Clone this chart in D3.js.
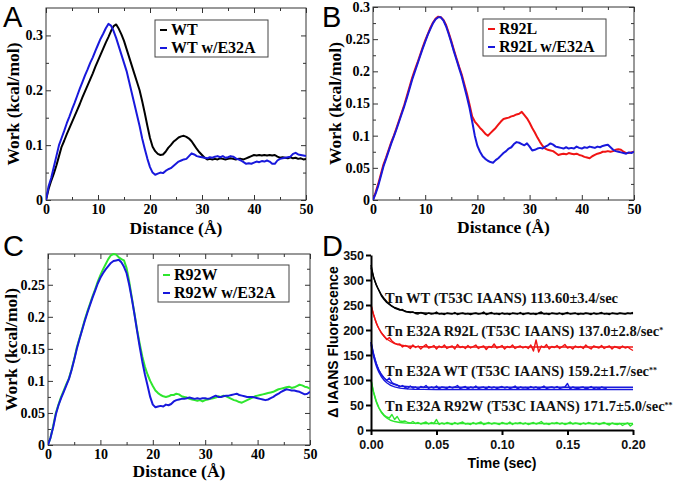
<!DOCTYPE html>
<html><head><meta charset="utf-8">
<script src="https://cdn.jsdelivr.net/npm/d3@7/dist/d3.min.js"></script>
<style>body{margin:0;background:#fff}svg{display:block}</style>
</head><body>
<svg id="c" width="677" height="484"></svg>
<script>
// ---------- DATA ----------
// Panels A-C: work (kcal/mol) sampled every 0.5 Å from 0 to 50 Å
const distanceStep = 0.5;
const distanceTicks = [0, 10, 20, 30, 40, 50];
const distanceTickLabels = ["0", "10", "20", "30", "40", "50"];
const distanceMinorTicks = [5, 15, 25, 35, 45];

const wtWork = [
0,0.02,0.035,0.048,0.063,0.08,0.097,0.108,0.12,0.131,
0.142,0.153,0.164,0.175,0.187,0.198,0.209,0.22,0.231,0.243,
0.254,0.265,0.276,0.287,0.297,0.308,0.317,0.32,0.312,0.302,
0.29,0.275,0.26,0.245,0.23,0.215,0.2,0.18,0.158,0.135,
0.113,0.097,0.089,0.084,0.082,0.083,0.088,0.095,0.1,0.106,
0.11,0.114,0.116,0.117,0.115,0.112,0.107,0.1,0.093,0.087,
0.082,0.077,0.074,0.075,0.074,0.075,0.074,0.076,0.075,0.074,
0.075,0.076,0.075,0.074,0.075,0.075,0.074,0.076,0.078,0.08,
0.082,0.081,0.082,0.081,0.082,0.081,0.082,0.081,0.082,0.079,
0.077,0.078,0.077,0.076,0.078,0.076,0.077,0.075,0.076,0.074,
0.075];
const wtE32AWork = [
0,0.025,0.04,0.06,0.08,0.1,0.113,0.126,0.14,0.152,
0.165,0.177,0.19,0.203,0.215,0.227,0.238,0.25,0.26,0.272,
0.283,0.294,0.303,0.313,0.321,0.318,0.308,0.295,0.28,0.265,
0.25,0.235,0.215,0.195,0.175,0.155,0.135,0.112,0.093,0.075,
0.06,0.05,0.046,0.048,0.05,0.049,0.053,0.056,0.058,0.062,
0.066,0.07,0.072,0.074,0.075,0.08,0.085,0.083,0.08,0.079,
0.078,0.077,0.076,0.078,0.077,0.079,0.08,0.078,0.08,0.077,
0.078,0.08,0.079,0.076,0.074,0.072,0.069,0.066,0.067,0.066,
0.068,0.07,0.069,0.071,0.07,0.072,0.07,0.066,0.066,0.072,
0.075,0.076,0.077,0.078,0.079,0.084,0.086,0.083,0.082,0.081,
0.08];
const r92lWork = [
0,0.012,0.025,0.04,0.055,0.066,0.078,0.09,0.1,0.112,
0.124,0.136,0.148,0.162,0.176,0.19,0.202,0.213,0.225,0.237,
0.248,0.258,0.268,0.276,0.282,0.285,0.284,0.28,0.272,0.26,
0.247,0.233,0.22,0.207,0.195,0.18,0.165,0.148,0.13,0.122,
0.117,0.112,0.108,0.103,0.1,0.104,0.108,0.112,0.117,0.122,
0.126,0.127,0.128,0.13,0.131,0.133,0.134,0.137,0.132,0.127,
0.12,0.112,0.105,0.097,0.09,0.084,0.08,0.078,0.077,0.076,
0.073,0.07,0.071,0.072,0.071,0.073,0.072,0.071,0.072,0.07,
0.069,0.067,0.066,0.065,0.068,0.07,0.072,0.073,0.075,0.075,
0.076,0.075,0.076,0.078,0.079,0.078,0.075,0.073,0.073,0.074,
0.075];
const r92lE32AWork = [
0,0.01,0.022,0.037,0.052,0.064,0.076,0.088,0.099,0.11,
0.122,0.134,0.146,0.159,0.173,0.187,0.199,0.211,0.223,0.235,
0.246,0.257,0.266,0.275,0.281,0.284,0.284,0.279,0.27,0.258,
0.245,0.231,0.218,0.205,0.192,0.176,0.16,0.143,0.122,0.1,
0.084,0.075,0.068,0.064,0.061,0.059,0.058,0.062,0.065,0.069,
0.073,0.076,0.08,0.082,0.087,0.09,0.089,0.087,0.085,0.088,
0.083,0.077,0.078,0.08,0.081,0.08,0.083,0.085,0.088,0.086,
0.083,0.082,0.081,0.08,0.082,0.08,0.081,0.08,0.083,0.081,
0.08,0.082,0.081,0.083,0.082,0.081,0.083,0.082,0.084,0.085,
0.086,0.082,0.078,0.076,0.075,0.074,0.073,0.072,0.074,0.073,
0.075];
const r92wWork = [
0,0.012,0.03,0.05,0.063,0.075,0.085,0.095,0.104,0.118,
0.134,0.152,0.166,0.18,0.195,0.208,0.22,0.232,0.243,0.255,
0.265,0.274,0.282,0.29,0.296,0.298,0.297,0.293,0.29,0.288,
0.276,0.255,0.23,0.205,0.18,0.158,0.138,0.122,0.11,0.1,
0.092,0.085,0.081,0.078,0.076,0.075,0.076,0.078,0.078,0.08,
0.079,0.076,0.075,0.074,0.072,0.071,0.07,0.069,0.07,0.068,
0.07,0.071,0.072,0.073,0.074,0.076,0.075,0.077,0.076,0.074,
0.072,0.07,0.069,0.067,0.066,0.068,0.07,0.072,0.074,0.076,
0.077,0.078,0.079,0.08,0.081,0.082,0.083,0.085,0.087,0.088,
0.089,0.09,0.091,0.089,0.09,0.092,0.094,0.093,0.091,0.09,
0.088];
const r92wE32AWork = [
0,0.012,0.028,0.048,0.062,0.073,0.083,0.093,0.103,0.117,
0.133,0.15,0.165,0.179,0.193,0.206,0.218,0.23,0.241,0.252,
0.261,0.268,0.274,0.279,0.284,0.287,0.288,0.289,0.285,0.278,
0.268,0.25,0.228,0.204,0.178,0.153,0.13,0.11,0.093,0.075,
0.063,0.059,0.06,0.061,0.06,0.063,0.062,0.064,0.068,0.07,
0.071,0.072,0.072,0.073,0.074,0.073,0.072,0.073,0.072,0.073,
0.073,0.072,0.073,0.075,0.077,0.075,0.075,0.076,0.077,0.077,
0.078,0.079,0.08,0.078,0.077,0.076,0.075,0.075,0.075,0.074,
0.073,0.072,0.071,0.07,0.071,0.073,0.075,0.078,0.08,0.083,
0.085,0.087,0.086,0.085,0.085,0.084,0.083,0.081,0.079,0.08,
0.083];

const workTicksA = [0, 0.1, 0.2, 0.3];
const workTickLabelsA = ["0", "0.1", "0.2", "0.3"];
const workMinorA = [0.05, 0.15, 0.25];
const workTicksB = [0, 0.05, 0.1, 0.15, 0.2, 0.25, 0.3];
const workTickLabelsB = ["0", "0.05", "0.1", "0.15", "0.2", "0.25", "0.3"];
const workMinorB = [0.025, 0.075, 0.125, 0.175, 0.225, 0.275];
const workTicksC = [0, 0.05, 0.1, 0.15, 0.2, 0.25];
const workTickLabelsC = ["0", "0.05", "0.1", "0.15", "0.2", "0.25"];
const workMinorC = [0.025, 0.075, 0.125, 0.175, 0.225, 0.275];

// Panel D: fluorescence traces sampled every 0.002 s
const timeStep = 0.002;
const tnWtTrace = [
330,305,290,279,268,261,255,251,247,244,
242,240,241,237,236,235,236,233,232,235,
233,231,234,232,233,236,232,233,231,234,
233,232,235,231,233,234,232,233,231,233,
234,232,233,236,231,233,235,232,233,231,
234,232,233,231,234,233,232,235,231,233,
234,232,233,231,234,236,232,233,231,234,
233,232,234,231,233,235,232,233,234,231,
233,232,234,233,231,234,232,233,235,232,
233,231,234,233,232,234,233,232,234,233,
235];
const tnE32AR92LTrace = [
250,231,214,203,194,188,181,185,178,174,
171,172,166,169,167,163,170,165,168,162,
167,171,164,166,169,162,168,165,170,163,
166,168,162,171,165,167,163,169,164,167,
170,163,166,168,161,167,165,172,164,166,
169,162,167,165,170,163,166,168,164,167,
163,170,158,180,156,168,165,171,162,167,
165,169,163,167,171,164,166,162,168,165,
167,163,170,165,162,168,166,164,169,163,
166,168,162,167,165,163,168,164,166,162,
159];
const tnE32AWtTrace = [
176,152,133,120,110,104,99,104,95,92,
90,86,89,85,83,88,84,86,82,87,
85,89,83,86,84,88,82,86,85,83,
87,84,86,89,83,85,87,82,86,84,
88,83,85,86,82,87,84,86,83,85,
87,84,86,83,85,88,82,86,84,85,
83,87,84,86,82,85,88,83,85,86,
84,87,83,85,86,93,82,86,84,83,
85,86,82,84,87,83,85,82,86,84,
83];
const tnE32AR92WTrace = [
100,76,58,45,36,30,26,24,31,21,
27,18,17,18,15,14,17,13,15,12,
14,16,12,15,13,21,11,14,12,15,
13,11,15,12,14,16,12,13,11,15,
12,14,16,11,13,15,12,14,13,11,
15,13,12,16,11,14,13,15,12,14,
11,13,15,12,14,17,12,13,11,14,
13,15,12,14,11,13,16,12,14,13,
11,14,12,15,13,12,14,11,13,15,
12,10,14,12,11,13,9,12,14,8,
12];
// fitted single-exponential curves (read at these times)
const fitTimes = [0,0.001,0.002,0.003,0.004,0.005,0.006,0.008,0.010,0.012,0.015,0.018,0.022,0.027,0.033,0.040,0.050,0.070,0.100,0.150,0.200];
const tnWtFit       = [325,315,306,298,291,285,280,270,263,257,250,245,241,237,235,234,233,233,233,233,233];
const tnE32AR92LFit = [250,239,230,222,215,208,203,194,187,182,177,173,170,168,167,166.5,166,166,166,166,166];
const tnE32AWtFit1  = [175.5,162,151,141,133,126,120,111,104,99,94,91,88,87,86,85.6,85.5,85.5,85.5,85.5,85.5];
const tnE32AWtFit2  = [171,157.6,146.5,136.9,128.7,121.7,115.7,106.3,99.4,94.4,89.3,86.1,83.7,82.3,81.5,81.2,81,81,81,81,81];
const tnE32AR92WFit = [100,86,74.6,64.9,56.7,49.7,43.9,34.9,28.5,24,19.5,16.9,15,13.8,13.3,13.1,13,13,13,13,13];

const timeTicks = [0, 0.05, 0.10, 0.15, 0.20];
const timeTickLabels = ["0.00", "0.05", "0.10", "0.15", "0.20"];
const fluorTicks = [0, 50, 100, 150, 200, 250, 300, 350];
const fluorTickLabels = ["0", "50", "100", "150", "200", "250", "300", "350"];

const labelsD = [
  {text: "Tn WT  (T53C IAANS) 113.60\u00b13.4/sec", star: ""},
  {text: "Tn E32A R92L  (T53C IAANS) 137.0\u00b12.8/sec", star: "*"},
  {text: "Tn E32A WT  (T53C IAANS) 159.2\u00b11.7/sec", star: "**"},
  {text: "Tn E32A R92W (T53C IAANS) 171.7\u00b15.0/sec", star: "**"}
];

// ---------- DRAWING ----------
const svg = d3.select("#c");
const SERIF = "'Liberation Serif','Times New Roman',serif";
const SANS = "'Liberation Sans',Arial,sans-serif";
const BLACK = "#000000", BLUE = "#1818dc", RED = "#f01414", GREEN = "#2ee62e";

function gracePanel(p) {
  const x = d3.scaleLinear().domain([0, 50]).range([p.left, p.right]);
  const y = d3.scaleLinear().domain(p.yDomain).range([p.bottom, p.top]);
  const g = svg.append("g");
  const axColor = "#333";
  const clean = sel => { sel.select(".domain").remove(); sel.selectAll(".tick line").attr("stroke", axColor).attr("stroke-width", 1); };
  const serifText = s => s.selectAll("text").attr("font-family", SERIF).attr("font-weight", "bold").attr("font-size", 14).attr("fill", "#000");
  g.append("rect").attr("x", p.left).attr("y", p.top).attr("width", p.right - p.left).attr("height", p.bottom - p.top)
    .attr("fill", "none").attr("stroke", axColor).attr("stroke-width", 1);
  g.append("g").attr("transform", `translate(0,${p.bottom})`)
    .call(d3.axisBottom(x).tickValues(distanceTicks).tickFormat((d, i) => distanceTickLabels[i]).tickSize(-5).tickPadding(4))
    .call(clean).call(serifText);
  g.append("g").attr("transform", `translate(0,${p.bottom})`)
    .call(d3.axisBottom(x).tickValues(distanceMinorTicks).tickFormat("").tickSize(-3)).call(clean);
  g.append("g").attr("transform", `translate(0,${p.top})`)
    .call(d3.axisTop(x).tickValues(distanceTicks).tickFormat("").tickSize(-5)).call(clean);
  g.append("g").attr("transform", `translate(0,${p.top})`)
    .call(d3.axisTop(x).tickValues(distanceMinorTicks).tickFormat("").tickSize(-3)).call(clean);
  g.append("g").attr("transform", `translate(${p.left},0)`)
    .call(d3.axisLeft(y).tickValues(p.yTicks).tickFormat((d, i) => p.yLabels[i]).tickSize(-5).tickPadding(3))
    .call(clean).call(serifText);
  g.append("g").attr("transform", `translate(${p.left},0)`)
    .call(d3.axisLeft(y).tickValues(p.yMinor).tickFormat("").tickSize(-3)).call(clean);
  g.append("g").attr("transform", `translate(${p.right},0)`)
    .call(d3.axisRight(y).tickValues(p.yTicks).tickFormat("").tickSize(-5)).call(clean);
  g.append("g").attr("transform", `translate(${p.right},0)`)
    .call(d3.axisRight(y).tickValues(p.yMinor).tickFormat("").tickSize(-3)).call(clean);
  const clipId = "clip" + p.id;
  svg.append("clipPath").attr("id", clipId).append("rect")
    .attr("x", p.left).attr("y", p.top - 2).attr("width", p.right - p.left).attr("height", p.bottom - p.top + 2);
  const line = d3.line().x((d, i) => x(i * distanceStep)).y(d => y(d));
  p.series.forEach(s => {
    g.append("path").datum(s.values).attr("d", line).attr("fill", "none")
      .attr("stroke", s.color).attr("stroke-width", 2).attr("stroke-linejoin", "round")
      .attr("clip-path", `url(#${clipId})`);
  });
  g.append("text").attr("x", (p.left + p.right) / 2).attr("y", p.xTitleY).attr("text-anchor", "middle")
    .attr("font-family", SERIF).attr("font-weight", "bold").attr("font-size", 17.5).text("Distance (\u00c5)");
  g.append("text").attr("transform", `translate(${p.yTitleX},${(p.top + p.bottom) / 2}) rotate(-90)`)
    .attr("text-anchor", "middle").attr("font-family", SERIF).attr("font-weight", "bold").attr("font-size", 17.5)
    .text("Work (kcal/mol)");
  const L = p.legend;
  g.append("rect").attr("x", L.x).attr("y", L.y).attr("width", L.w).attr("height", L.h)
    .attr("fill", "#fff").attr("stroke", "#444").attr("stroke-width", 1);
  p.series.forEach((s, i) => {
    const cy = L.y + L.first + i * L.gap;
    g.append("line").attr("x1", L.x + 5).attr("x2", L.x + 12).attr("y1", cy - 5).attr("y2", cy - 5)
      .attr("stroke", s.color).attr("stroke-width", 2);
    g.append("text").attr("x", L.x + 16).attr("y", cy).attr("font-family", SERIF).attr("font-weight", "bold")
      .attr("font-size", L.fs).text(s.name);
  });
  svg.append("text").attr("x", p.letterX).attr("y", p.letterY).attr("font-family", SANS).attr("font-size", 29)
    .text(p.id);
}

gracePanel({
  id: "A", left: 46, right: 306, top: 8, bottom: 200, yDomain: [0, 0.35],
  yTicks: workTicksA, yLabels: workTickLabelsA, yMinor: workMinorA,
  series: [{name: "WT", values: wtWork, color: BLACK}, {name: "WT w/E32A", values: wtE32AWork, color: BLUE}],
  legend: {x: 155, y: 20, w: 113, h: 37, first: 15, gap: 18, fs: 16},
  xTitleY: 234, yTitleX: 19, letterX: 3, letterY: 26.5
});
gracePanel({
  id: "B", left: 373, right: 634, top: 7, bottom: 200, yDomain: [0, 0.3],
  yTicks: workTicksB, yLabels: workTickLabelsB, yMinor: workMinorB,
  series: [{name: "R92L", values: r92lWork, color: RED}, {name: "R92L w/E32A", values: r92lE32AWork, color: BLUE}],
  legend: {x: 483, y: 19, w: 123, h: 37, first: 15, gap: 18, fs: 16},
  xTitleY: 233, yTitleX: 341, letterX: 322, letterY: 26.5
});
gracePanel({
  id: "C", left: 48, right: 310, top: 254, bottom: 445, yDomain: [0, 0.298],
  yTicks: workTicksC, yLabels: workTickLabelsC, yMinor: workMinorC,
  series: [{name: "R92W", values: r92wWork, color: GREEN}, {name: "R92W w/E32A", values: r92wE32AWork, color: BLUE}],
  legend: {x: 158, y: 265, w: 131, h: 37, first: 15, gap: 18, fs: 16},
  xTitleY: 477, yTitleX: 17, letterX: 3, letterY: 256
});

// Panel D
(function () {
  const left = 371, right = 633, top = 255, bottom = 430;
  const x = d3.scaleLinear().domain([0, 0.2]).range([left, right]);
  const y = d3.scaleLinear().domain([0, 350]).range([bottom, top]);
  const g = svg.append("g");
  const dataLine = d3.line().x((d, i) => x(i * timeStep)).y(d => y(d));
  const fitLine = d3.line().x((d, i) => x(fitTimes[i])).y(d => y(d));
  const traces = [
    {data: tnWtTrace, fits: [tnWtFit], color: BLACK},
    {data: tnE32AR92LTrace, fits: [tnE32AR92LFit], color: RED},
    {data: tnE32AWtTrace, fits: [tnE32AWtFit1, tnE32AWtFit2], color: BLUE},
    {data: tnE32AR92WTrace, fits: [tnE32AR92WFit], color: GREEN}
  ];
  traces.forEach(t => {
    t.fits.forEach(f => g.append("path").datum(f).attr("d", fitLine).attr("fill", "none")
      .attr("stroke", t.color).attr("stroke-width", 1.4));
    g.append("path").datum(t.data).attr("d", dataLine).attr("fill", "none")
      .attr("stroke", t.color).attr("stroke-width", 1.4).attr("stroke-linejoin", "round");
  });
  const styleAxis = s => {
    s.select(".domain").attr("stroke", "#000").attr("stroke-width", 2);
    s.selectAll(".tick line").attr("stroke", "#000").attr("stroke-width", 2);
    s.selectAll("text").attr("font-family", SANS).attr("font-weight", "bold").attr("font-size", 12.5).attr("fill", "#111");
  };
  g.append("g").attr("transform", `translate(0,${bottom})`)
    .call(d3.axisBottom(x).tickValues(timeTicks).tickFormat((d, i) => timeTickLabels[i]).tickSize(5).tickSizeOuter(0).tickPadding(5))
    .call(styleAxis);
  g.append("g").attr("transform", `translate(${left},0)`)
    .call(d3.axisLeft(y).tickValues(fluorTicks).tickFormat((d, i) => fluorTickLabels[i]).tickSize(5).tickSizeOuter(0).tickPadding(2))
    .call(styleAxis);
  g.append("text").attr("x", (left + right) / 2).attr("y", 468).attr("text-anchor", "middle")
    .attr("font-family", SANS).attr("font-weight", "bold").attr("font-size", 14).text("Time (sec)");
  g.append("text").attr("transform", `translate(338,342) rotate(-90)`).attr("text-anchor", "middle")
    .attr("font-family", SANS).attr("font-weight", "bold").attr("font-size", 14).text("\u0394 IAANS Fluorescence");
  const labelY = [303, 336, 376, 411];
  labelsD.forEach((l, i) => {
    const t = g.append("text").attr("x", 385).attr("y", labelY[i]).attr("font-family", SERIF)
      .attr("font-weight", "bold").attr("font-size", 14.5).attr("fill", "#111").text(l.text);
    if (l.star) t.append("tspan").attr("font-size", 8).attr("dy", -3).text(l.star);
  });
  svg.append("text").attr("x", 322).attr("y", 256).attr("font-family", SANS).attr("font-size", 29).text("D");
})();
</script>
</body></html>
